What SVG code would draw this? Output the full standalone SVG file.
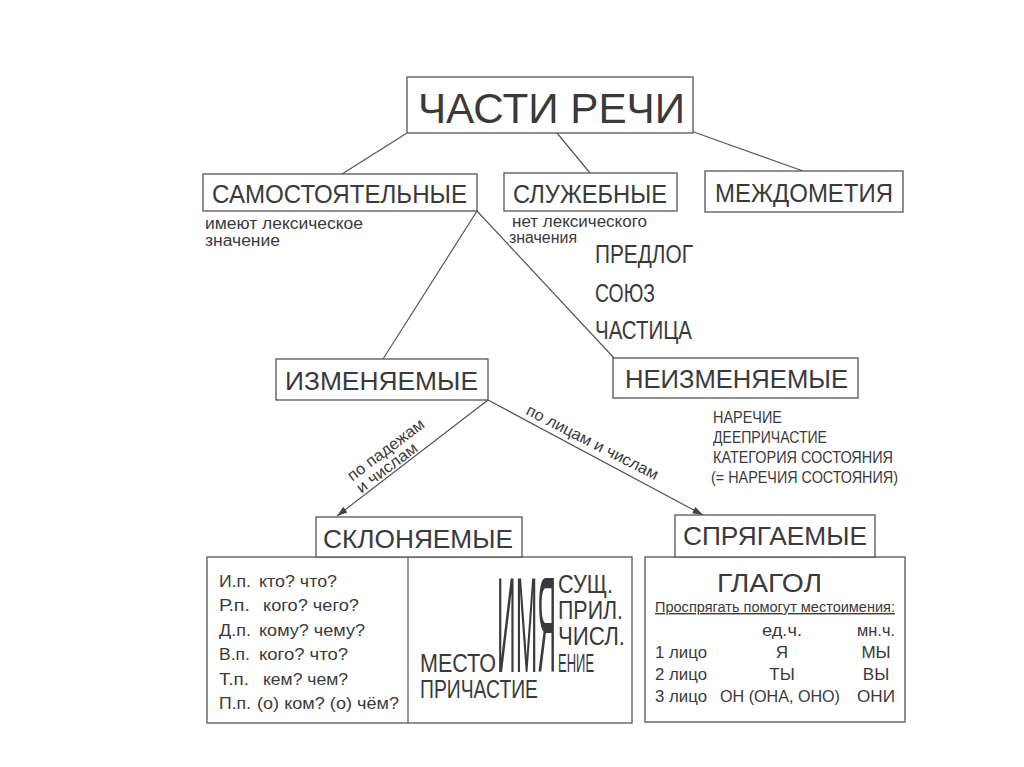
<svg xmlns="http://www.w3.org/2000/svg" width="1024" height="767" viewBox="0 0 1024 767">
<style>
  .box{fill:#fff;stroke:#555;stroke-width:1.3}
  .t{font-family:"Liberation Sans",Arial,sans-serif;fill:#3a3a3a}
  .big{font-size:25px}
  .sm{font-size:16px}
  .c{font-size:17px}
  .ln{stroke:#555;stroke-width:1.2;fill:none}
</style>
<defs>
  <marker id="ah" viewBox="0 0 12 8" refX="12" refY="4" markerWidth="13" markerHeight="7" markerUnits="userSpaceOnUse" orient="auto">
    <path d="M0,0 L12,4 L0,8 Z" fill="#444"/>
  </marker>
</defs>
<rect width="1024" height="767" fill="#fff"/>

<g id="connectors">
  <line class="ln" x1="407" y1="133" x2="342" y2="174"/>
  <line class="ln" x1="557" y1="133" x2="590" y2="173"/>
  <line class="ln" x1="691" y1="131" x2="803" y2="171"/>
  <line class="ln" x1="477" y1="211" x2="383" y2="359"/>
  <line class="ln" x1="477" y1="211" x2="614" y2="358"/>
  <line class="ln" x1="488" y1="400" x2="337" y2="516" marker-end="url(#ah)"/>
  <line class="ln" x1="488" y1="400" x2="703" y2="515" marker-end="url(#ah)"/>
  <text class="t sm" transform="translate(389,454) rotate(-37)" text-anchor="middle" textLength="92" lengthAdjust="spacingAndGlyphs">по падежам</text>
  <text class="t sm" transform="translate(390,472) rotate(-37)" text-anchor="middle" textLength="72" lengthAdjust="spacingAndGlyphs">и числам</text>
  <text class="t sm" transform="translate(590,447) rotate(27)" text-anchor="middle" textLength="146" lengthAdjust="spacingAndGlyphs">по лицам и числам</text>
</g>

<g id="chasti-rechi">
  <rect class="box" x="407" y="77" width="286" height="56"/>
  <text class="t" x="418" y="123" font-size="43" textLength="267" lengthAdjust="spacingAndGlyphs">ЧАСТИ РЕЧИ</text>
</g>

<g id="samostoyatelnye">
  <rect class="box" x="203" y="174" width="274" height="37"/>
  <text class="t big" x="212" y="203" textLength="255" lengthAdjust="spacingAndGlyphs">САМОСТОЯТЕЛЬНЫЕ</text>
  <text class="t sm" x="205" y="229" textLength="158" lengthAdjust="spacingAndGlyphs">имеют лексическое</text>
  <text class="t sm" x="205" y="246" textLength="75" lengthAdjust="spacingAndGlyphs">значение</text>
</g>

<g id="sluzhebnye">
  <rect class="box" x="504" y="173" width="173" height="38"/>
  <text class="t big" x="513" y="203" textLength="154" lengthAdjust="spacingAndGlyphs">СЛУЖЕБНЫЕ</text>
  <text class="t sm" x="512" y="227" textLength="135" lengthAdjust="spacingAndGlyphs">нет лексического</text>
  <text class="t sm" x="509" y="243" textLength="68" lengthAdjust="spacingAndGlyphs">значения</text>
  <text class="t big" x="595" y="263" textLength="98" lengthAdjust="spacingAndGlyphs">ПРЕДЛОГ</text>
  <text class="t big" x="595" y="302" textLength="60" lengthAdjust="spacingAndGlyphs">СОЮЗ</text>
  <text class="t big" x="595" y="339" textLength="97" lengthAdjust="spacingAndGlyphs">ЧАСТИЦА</text>
</g>

<g id="mezhdometiya">
  <rect class="box" x="705" y="171" width="198" height="41"/>
  <text class="t big" x="715" y="202" textLength="178" lengthAdjust="spacingAndGlyphs">МЕЖДОМЕТИЯ</text>
</g>

<g id="izmenyaemye">
  <rect class="box" x="276" y="359" width="212" height="41"/>
  <text class="t big" x="285" y="390" textLength="193" lengthAdjust="spacingAndGlyphs">ИЗМЕНЯЕМЫЕ</text>
</g>

<g id="neizmenyaemye">
  <rect class="box" x="613" y="358" width="245" height="40"/>
  <text class="t big" x="625" y="388" textLength="223" lengthAdjust="spacingAndGlyphs">НЕИЗМЕНЯЕМЫЕ</text>
  <g class="t" font-size="17">
    <text x="713" y="423" textLength="69" lengthAdjust="spacingAndGlyphs">НАРЕЧИЕ</text>
    <text x="713" y="443" textLength="114" lengthAdjust="spacingAndGlyphs">ДЕЕПРИЧАСТИЕ</text>
    <text x="713" y="463" textLength="180" lengthAdjust="spacingAndGlyphs">КАТЕГОРИЯ СОСТОЯНИЯ</text>
    <text x="711" y="483" textLength="187" lengthAdjust="spacingAndGlyphs">(= НАРЕЧИЯ СОСТОЯНИЯ)</text>
  </g>
</g>

<g id="sklonyaemye">
  <rect class="box" x="207" y="557" width="425" height="166"/>
  <line class="ln" x1="408" y1="557" x2="408" y2="723"/>
  <rect class="box" x="316" y="517" width="206" height="40"/>
  <text class="t big" x="323" y="548" textLength="190" lengthAdjust="spacingAndGlyphs">СКЛОНЯЕМЫЕ</text>
  <g class="t c">
    <text x="219" y="587" textLength="32" lengthAdjust="spacingAndGlyphs">И.п.</text><text x="259" y="587" textLength="78" lengthAdjust="spacingAndGlyphs">кто? что?</text>
    <text x="219" y="611" textLength="31" lengthAdjust="spacingAndGlyphs">Р.п.</text><text x="263" y="611" textLength="96" lengthAdjust="spacingAndGlyphs">кого? чего?</text>
    <text x="219" y="636" textLength="32" lengthAdjust="spacingAndGlyphs">Д.п.</text><text x="259" y="636" textLength="106" lengthAdjust="spacingAndGlyphs">кому? чему?</text>
    <text x="219" y="660" textLength="31" lengthAdjust="spacingAndGlyphs">В.п.</text><text x="259" y="660" textLength="89" lengthAdjust="spacingAndGlyphs">кого? что?</text>
    <text x="219" y="685" textLength="30" lengthAdjust="spacingAndGlyphs">Т.п.</text><text x="263" y="685" textLength="85" lengthAdjust="spacingAndGlyphs">кем? чем?</text>
    <text x="219" y="709" textLength="32" lengthAdjust="spacingAndGlyphs">П.п.</text><text x="257" y="709" textLength="142" lengthAdjust="spacingAndGlyphs">(о) ком? (о) чём?</text>
  </g>
  <text class="t" x="497" y="672" font-size="135" textLength="59" lengthAdjust="spacingAndGlyphs">ИМЯ</text>
  <text class="t big" x="558" y="593" textLength="55" lengthAdjust="spacingAndGlyphs">СУЩ.</text>
  <text class="t big" x="558" y="619" textLength="65" lengthAdjust="spacingAndGlyphs">ПРИЛ.</text>
  <text class="t big" x="558" y="645" textLength="67" lengthAdjust="spacingAndGlyphs">ЧИСЛ.</text>
  <text class="t big" transform="translate(558,672) scale(0.52,1)">ЕНИЕ</text>
  <text class="t big" x="420" y="672" textLength="76" lengthAdjust="spacingAndGlyphs">МЕСТО</text>
  <text class="t big" x="420" y="698" textLength="118" lengthAdjust="spacingAndGlyphs">ПРИЧАСТИЕ</text>
</g>

<g id="spryagaemye">
  <rect class="box" x="645" y="557" width="260" height="165"/>
  <rect class="box" x="675" y="515" width="200" height="42"/>
  <text class="t big" x="683" y="545" textLength="184" lengthAdjust="spacingAndGlyphs">СПРЯГАЕМЫЕ</text>
  <text class="t" x="717" y="592" font-size="25" textLength="105" lengthAdjust="spacingAndGlyphs">ГЛАГОЛ</text>
  <text class="t" x="655" y="612" font-size="14" textLength="240" lengthAdjust="spacingAndGlyphs" text-decoration="underline">Проспрягать помогут местоимения:</text>
  <g class="t c" text-anchor="middle">
    <text x="782" y="636" textLength="40" lengthAdjust="spacingAndGlyphs">ед.ч.</text><text x="876" y="636" textLength="38" lengthAdjust="spacingAndGlyphs">мн.ч.</text>
    <text x="782" y="658">Я</text><text x="876" y="658">МЫ</text>
    <text x="782" y="680">ТЫ</text><text x="876" y="680">ВЫ</text>
    <text x="780" y="702" textLength="120" lengthAdjust="spacingAndGlyphs">ОН (ОНА, ОНО)</text><text x="876" y="702" textLength="38" lengthAdjust="spacingAndGlyphs">ОНИ</text>
  </g>
  <g class="t c">
    <text x="655" y="658" textLength="52" lengthAdjust="spacingAndGlyphs">1 лицо</text>
    <text x="655" y="680" textLength="52" lengthAdjust="spacingAndGlyphs">2 лицо</text>
    <text x="655" y="702" textLength="52" lengthAdjust="spacingAndGlyphs">3 лицо</text>
  </g>
</g>
</svg>
